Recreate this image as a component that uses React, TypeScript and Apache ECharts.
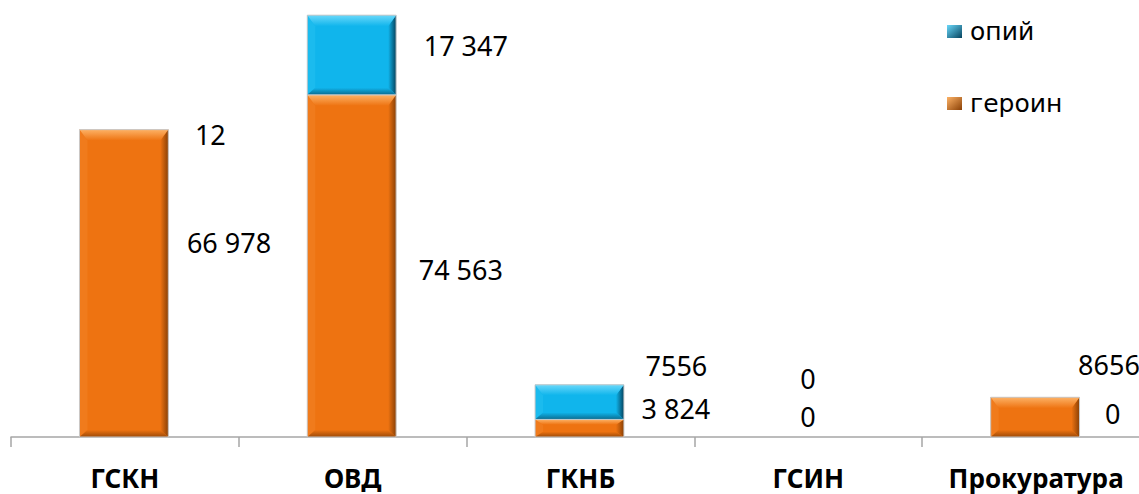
import React, { useEffect, useRef } from "react";
import * as echarts from "echarts";

// ---- data ----
const categories = ["ГСКН", "ОВД", "ГКНБ", "ГСИН", "Прокуратура"];
const heroin = [66978, 74563, 3824, 0, 8656];
const opium = [12, 17347, 7556, 0, 0];
const heroinLabels = ["66 978", "74 563", "3 824", "0", "8656"];
const opiumLabels = ["12", "17 347", "7556", "0", "0"];
const seriesNames = ["опий", "героин"];

// ---- layout (label offsets: dx from category centre, dy from segment top) ----
const heroinLabelDx = [62, 66, 61, -8, 42];
const heroinLabelDy = [113, 175, -11, -21, -33];
const opiumLabelDx = [70, 71, 65, -8, 69];
const opiumLabelDy = [5, 30, -19, -59, 16];

const ORANGE = { face: "#ee7311", light: "#fdb266", left: "#f07b1c", right: "#8a4005", bottom: "#9c4a08" };
const BLUE = { face: "#10b5ec", light: "#6ad8fa", left: "#1bbbee", right: "#05435e", bottom: "#0a6b90" };

const lg = (x2: number, y2: number, c1: string, c2: string) =>
  new echarts.graphic.LinearGradient(0, 0, x2, y2, [
    { offset: 0, color: c1 },
    { offset: 1, color: c2 },
  ]);

function makeRender(pal: any, labels: string[], dxs: number[], dys: number[]) {
  return (params: any, api: any) => {
    const i = api.value(0);
    const base = api.value(1);
    const top = api.value(2);
    const pTop = api.coord([i, top]);
    const pBase = api.coord([i, base]);
    const band = api.size([1, 0])[0];
    const w = band * 0.39;
    const cx = pTop[0];
    const x0 = cx - 1 - w / 2;
    const x1 = x0 + w;
    const y0 = pTop[1];
    const y1 = pBase[1];
    const h = y1 - y0;
    const children: any[] = [];
    if (h > 0.5) {
      const bt = Math.min(11, h * 0.3);
      const bb = Math.min(7, h * 0.3);
      const bs = 8;
      children.push({ type: "rect", shape: { x: x0, y: y0, width: w, height: h }, style: { fill: pal.face } });
      children.push({
        type: "polygon",
        shape: { points: [[x0, y0], [x0 + bs, y0 + bt], [x0 + bs, y1 - bb], [x0, y1]] },
        style: { fill: pal.left },
      });
      children.push({
        type: "polygon",
        shape: { points: [[x1, y0], [x1, y1], [x1 - bs, y1 - bb], [x1 - bs, y0 + bt]] },
        style: { fill: lg(1, 0, pal.face, pal.right) },
      });
      children.push({
        type: "polygon",
        shape: { points: [[x0, y1], [x1, y1], [x1 - bs, y1 - bb], [x0 + bs, y1 - bb]] },
        style: { fill: lg(0, 1, pal.face, pal.bottom) },
      });
      children.push({
        type: "polygon",
        shape: { points: [[x0, y0], [x1, y0], [x1 - bs, y0 + bt], [x0 + bs, y0 + bt]] },
        style: { fill: lg(0, 1, pal.light, pal.face) },
      });
      children.push({
        type: "rect",
        shape: { x: x0, y: y0, width: w, height: h },
        style: { fill: "none", stroke: "#c9c9c9", lineWidth: 1 },
      });
    }
    children.push({
      type: "text",
      x: cx + dxs[i],
      y: y0 + dys[i],
      z2: 100,
      style: {
        text: labels[i],
        fill: "#000",
        fontSize: 27,
        fontFamily: "Noto Sans",
        align: "left",
        verticalAlign: "middle",
      },
    });
    return { type: "group", children };
  };
}

export default function App() {
  const ref = useRef<HTMLDivElement>(null);
  useEffect(() => {
    if (!ref.current) return;
    const chart = echarts.init(ref.current, undefined, { renderer: "svg" });
    const heroinData = categories.map((_, i) => [i, 0, heroin[i]]);
    const opiumData = categories.map((_, i) => [i, heroin[i], heroin[i] + opium[i]]);
    chart.setOption({
      animation: false,
      backgroundColor: "#ffffff",
      grid: { left: 11, right: -11, top: 1, bottom: 57, containLabel: false, outerBoundsMode: "none" },
      legend: {
        orient: "vertical",
        left: 942,
        top: 14,
        itemGap: 47,
        itemWidth: 15,
        itemHeight: 13,
        icon: "rect",
        textStyle: { fontFamily: "DejaVu Sans", fontSize: 25, color: "#000", padding: [0, 0, 0, 3] },
        data: [
          { name: seriesNames[0], itemStyle: { color: lg(1, 1, BLUE.light, BLUE.right) } },
          { name: seriesNames[1], itemStyle: { color: lg(1, 1, ORANGE.light, ORANGE.right) } },
        ],
      },
      xAxis: {
        type: "category",
        data: categories,
        boundaryGap: true,
        axisLine: { show: true, lineStyle: { color: "#a6a6a6", width: 1.5 } },
        axisTick: { show: true, length: 10, lineStyle: { color: "#a6a6a6", width: 1.5 } },
        axisLabel: {
          interval: 0,
          margin: 28,
          color: "#000",
          fontFamily: "Noto Sans",
          fontWeight: "bold",
          fontSize: 26,
        },
      },
      yAxis: { type: "value", min: 0, max: 95000, show: false, splitLine: { show: false } },
      series: [
        {
          name: seriesNames[1],
          type: "custom",
          itemStyle: { color: ORANGE.face },
          encode: { x: 0, y: [1, 2] },
          data: heroinData,
          renderItem: makeRender(ORANGE, heroinLabels, heroinLabelDx, heroinLabelDy),
        },
        {
          name: seriesNames[0],
          type: "custom",
          itemStyle: { color: BLUE.face },
          encode: { x: 0, y: [1, 2] },
          data: opiumData,
          renderItem: makeRender(BLUE, opiumLabels, opiumLabelDx, opiumLabelDy),
        },
      ],
    });
    return () => chart.dispose();
  }, []);
  return <div ref={ref} style={{ position: "absolute", left: 0, top: 0, width: 1139, height: 494 }} />;
}
